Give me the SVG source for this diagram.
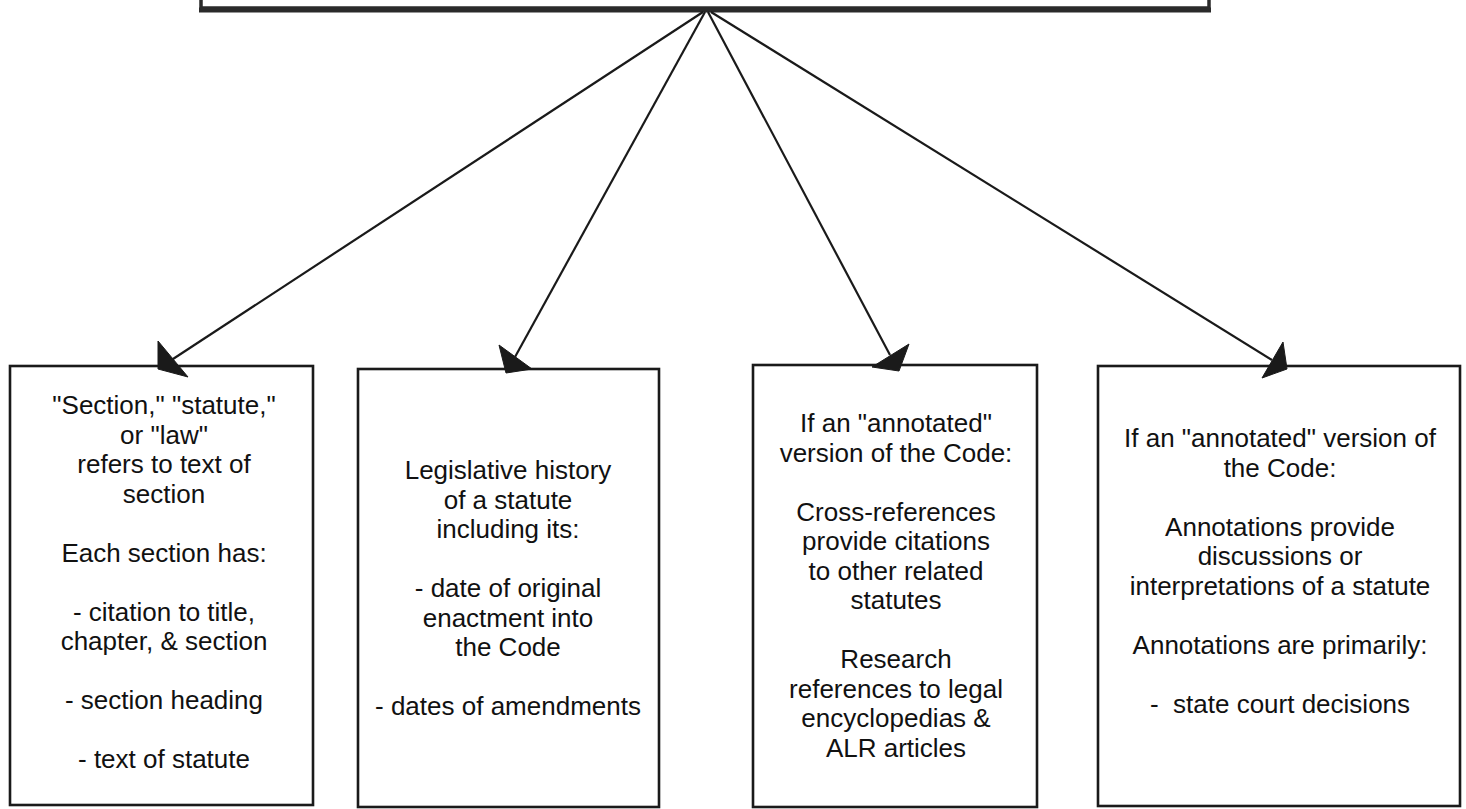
<svg xmlns="http://www.w3.org/2000/svg" width="1466" height="809" viewBox="0 0 1466 809">
<style>
.box{fill:#fff;stroke:#1a1a1a;stroke-width:2.6}
.t{font-family:"Liberation Sans",Arial,sans-serif;font-size:26px;fill:#111;text-anchor:middle}
.c{stroke:#1a1a1a;stroke-width:2.2;fill:none}
.h{fill:#1a1a1a;stroke:#1a1a1a;stroke-width:1;stroke-linejoin:round}
</style>
<rect width="1466" height="809" fill="#fff"/>
<g id="top">
<rect x="201" y="-20" width="1008" height="28" fill="#fff" stroke="#2a2a2a" stroke-width="3.5"/>
<line x1="199" y1="10" x2="1211" y2="10" stroke="#2a2a2a" stroke-width="5"/>
</g>
<g id="box1">
<rect class="box" x="10" y="366" width="303" height="439"/>
<text class="t" x="164" y="414">"Section," "statute,"</text>
<text class="t" x="164" y="443.5">or "law"</text>
<text class="t" x="164" y="473">refers to text of</text>
<text class="t" x="164" y="502.5">section</text>
<text class="t" x="164" y="561.5">Each section has:</text>
<text class="t" x="164" y="620.5">- citation to title,</text>
<text class="t" x="164" y="650">chapter, &amp; section</text>
<text class="t" x="164" y="709">- section heading</text>
<text class="t" x="164" y="768">- text of statute</text>
</g>
<g id="box2">
<rect class="box" x="358" y="369" width="301" height="438"/>
<text class="t" x="508" y="479">Legislative history</text>
<text class="t" x="508" y="508.5">of a statute</text>
<text class="t" x="508" y="538">including its:</text>
<text class="t" x="508" y="597">- date of original</text>
<text class="t" x="508" y="626.5">enactment into</text>
<text class="t" x="508" y="656">the Code</text>
<text class="t" x="508" y="715">- dates of amendments</text>
</g>
<g id="box3">
<rect class="box" x="753" y="365" width="284" height="442"/>
<text class="t" x="896" y="432">If an "annotated"</text>
<text class="t" x="896" y="461.5">version of the Code:</text>
<text class="t" x="896" y="520.5">Cross-references</text>
<text class="t" x="896" y="550">provide citations</text>
<text class="t" x="896" y="579.5">to other related</text>
<text class="t" x="896" y="609">statutes</text>
<text class="t" x="896" y="668">Research</text>
<text class="t" x="896" y="697.5">references to legal</text>
<text class="t" x="896" y="727">encyclopedias &amp;</text>
<text class="t" x="896" y="756.5">ALR articles</text>
</g>
<g id="box4">
<rect class="box" x="1098" y="366" width="362" height="440"/>
<text class="t" x="1280" y="447">If an "annotated" version of</text>
<text class="t" x="1280" y="476.5">the Code:</text>
<text class="t" x="1280" y="535.5">Annotations provide</text>
<text class="t" x="1280" y="565">discussions or</text>
<text class="t" x="1280" y="594.5">interpretations of a statute</text>
<text class="t" x="1280" y="653.5">Annotations are primarily:</text>
<text class="t" x="1280" y="712.5" xml:space="preserve">-  state court decisions</text>
</g>
<g id="connectors">
<line class="c" x1="703" y1="12" x2="173" y2="359"/>
<polygon class="h" points="158,341 188,377 158,369"/>
<line class="c" x1="705" y1="12" x2="515" y2="357"/>
<polygon class="h" points="499,345 532,369 506,373"/>
<line class="c" x1="708" y1="12" x2="890" y2="355"/>
<polygon class="h" points="872,367 909,344 899,371"/>
<line class="c" x1="711" y1="12" x2="1272" y2="360"/>
<polygon class="h" points="1283,342 1262,378 1287,369"/>
</g>
</svg>
